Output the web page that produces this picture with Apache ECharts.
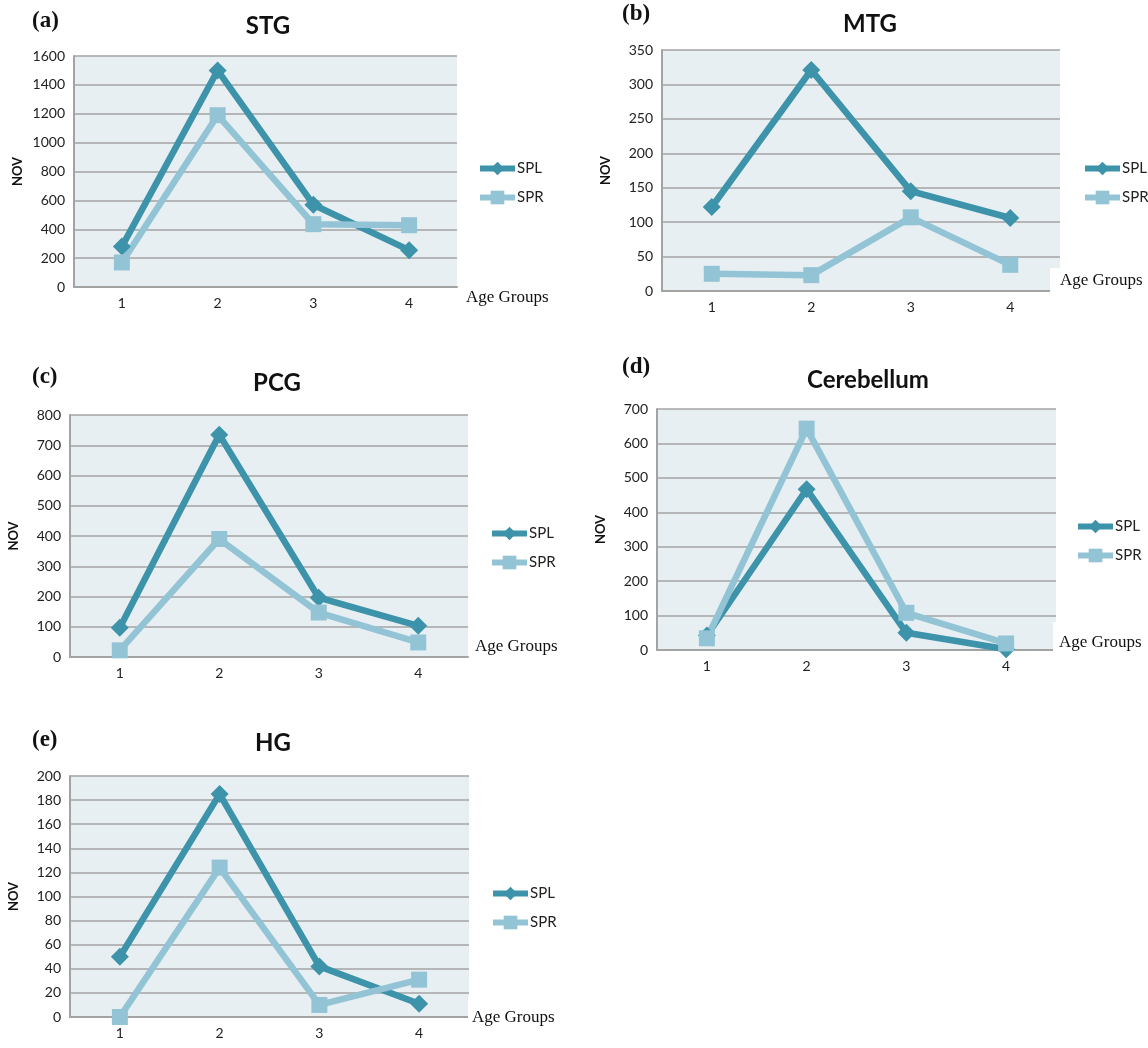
<!DOCTYPE html>
<html>
<head>
<meta charset="utf-8">
<script src="https://cdn.jsdelivr.net/npm/echarts@6/dist/echarts.min.js"></script>
<style>
html,body{margin:0;padding:0;background:#fff;}
#chart{width:1148px;height:1048px;}
</style>
</head>
<body>
<div id="chart"></div>
<script>
// ---- data ----
var categories = ['1', '2', '3', '4'];
var panelLetters = ['(a)', '(b)', '(c)', '(d)', '(e)'];
var panelTitles = ['STG', 'MTG', 'PCG', 'Cerebellum', 'HG'];
var seriesNames = ['SPL', 'SPR'];
var stgSPL = [280, 1500, 570, 255];
var stgSPR = [170, 1190, 435, 428];
var mtgSPL = [122, 321, 145, 106];
var mtgSPR = [25, 23, 107, 38];
var pcgSPL = [97, 735, 196, 103];
var pcgSPR = [22, 390, 147, 48];
var cereSPL = [42, 467, 50, 2];
var cereSPR = [34, 643, 108, 19];
var hgSPL = [50, 185, 42, 11];
var hgSPR = [0, 124, 10, 31];
var yMax = [1600, 350, 800, 700, 200];
var yStep = [200, 50, 100, 100, 20];
var yAxisName = 'NOV';
var xAxisName = 'Age Groups';

var splData = [stgSPL, mtgSPL, pcgSPL, cereSPL, hgSPL];
var sprData = [stgSPR, mtgSPR, pcgSPR, cereSPR, hgSPR];

// ---- layout ----
var grids = [
  {left: 74, top: 56, width: 383, height: 231},
  {left: 662, top: 50, width: 398, height: 241},
  {left: 70, top: 415, width: 398, height: 242},
  {left: 657, top: 409, width: 399, height: 241},
  {left: 70, top: 776, width: 399, height: 241}
];
var titlePos = [
  {x: 268, y: 14}, {x: 870, y: 12}, {x: 277, y: 371}, {x: 868, y: 368}, {x: 273, y: 731}
];
var letterPos = [
  {x: 32, y: 10}, {x: 622, y: 3}, {x: 32, y: 366}, {x: 622, y: 356}, {x: 32, y: 729}
];
var legendPos = [
  {x: 477, y: 161}, {x: 1082, y: 161}, {x: 489, y: 526}, {x: 1075, y: 519}, {x: 490, y: 886}
];
// "Age Groups" label: text position and optional white box behind it
var xNamePos = [
  {x: 466, y: 298, box: null},
  {x: 1060, y: 281, box: {x: 1050, y: 268, w: 98, h: 28}},
  {x: 475, y: 647, box: null},
  {x: 1059, y: 643, box: {x: 1053, y: 622, w: 95, h: 33}},
  {x: 472, y: 1018, box: {x: 468, y: 997, w: 92, h: 33}}
];

var SPL_COLOR = '#3d93aa';
var SPR_COLOR = '#93c4d5';
var GRID_LINE = '#a3a3a3';
var BG = '#e8eff3';
var SANS = 'Lato, "Open Sans", sans-serif';
var SERIF = '"Liberation Serif", "DejaVu Serif", serif';

var option = {
  animation: false,
  backgroundColor: '#ffffff',
  title: [], legend: [], grid: [], xAxis: [], yAxis: [], series: [], graphic: []
};

for (var i = 0; i < 5; i++) {
  option.grid.push({
    left: grids[i].left, top: grids[i].top, width: grids[i].width, height: grids[i].height,
    show: true, backgroundColor: BG, borderWidth: 0, containLabel: false
  });
  option.title.push({
    text: panelTitles[i], left: titlePos[i].x, top: titlePos[i].y, textAlign: 'center', padding: 0,
    textStyle: {fontFamily: SANS, fontWeight: 'bold', fontSize: 24, color: '#111'}
  });
  option.title.push({
    text: panelLetters[i], left: letterPos[i].x, top: letterPos[i].y, padding: 0,
    textStyle: {fontFamily: SERIF, fontWeight: 'bold', fontSize: 23, color: '#111'}
  });
  option.legend.push({
    data: seriesNames, orient: 'vertical', left: legendPos[i].x, top: legendPos[i].y, padding: 0,
    itemWidth: 35, itemHeight: 17, itemGap: 14, selectedMode: false,
    lineStyle: {width: 6},
    textStyle: {fontFamily: SANS, fontSize: 15, color: '#222', padding: [0, 0, 0, -3]}
  });
  option.xAxis.push({
    type: 'category', gridIndex: i, data: categories, boundaryGap: true,
    axisLine: {show: true, lineStyle: {color: GRID_LINE, width: 2}},
    axisTick: {show: false},
    axisLabel: {fontFamily: SANS, fontSize: 14, color: '#222', margin: 9},
    splitLine: {show: false}
  });
  option.yAxis.push({
    type: 'value', gridIndex: i, min: 0, max: yMax[i], interval: yStep[i],
    name: yAxisName, nameLocation: 'middle', nameGap: 50, nameRotate: 90,
    nameTextStyle: {fontFamily: SANS, fontWeight: 'bold', fontSize: 13, color: '#111'},
    axisLine: {show: true, lineStyle: {color: GRID_LINE, width: 2}},
    axisTick: {show: false},
    axisLabel: {fontFamily: SANS, fontSize: 14, color: '#222', margin: 9,
      formatter: function (v) { return String(v); }},
    splitLine: {show: true, lineStyle: {color: GRID_LINE, width: 1.6}}
  });
  option.series.push({
    name: seriesNames[0], type: 'line', xAxisIndex: i, yAxisIndex: i, data: splData[i],
    symbol: 'diamond', symbolSize: 18, showAllSymbol: true,
    lineStyle: {color: SPL_COLOR, width: 6.5}, itemStyle: {color: SPL_COLOR},
    emphasis: {disabled: true}
  });
  option.series.push({
    name: seriesNames[1], type: 'line', xAxisIndex: i, yAxisIndex: i, data: sprData[i],
    symbol: 'rect', symbolSize: 16, showAllSymbol: true,
    lineStyle: {color: SPR_COLOR, width: 6.5}, itemStyle: {color: SPR_COLOR},
    emphasis: {disabled: true}
  });
  var np = xNamePos[i];
  if (np.box) {
    option.graphic.push({
      type: 'rect', left: np.box.x, top: np.box.y, z: 50,
      shape: {width: np.box.w, height: np.box.h},
      style: {fill: '#ffffff'}
    });
  }
  option.graphic.push({
    type: 'text', x: np.x, y: np.y, z: 51,
    style: {text: xAxisName, font: '17px ' + SERIF, fill: '#111',
      textAlign: 'left', textVerticalAlign: 'middle', verticalAlign: 'middle'}
  });
}

var chart = echarts.init(document.getElementById('chart'), null, {renderer: 'canvas'});
chart.setOption(option);
</script>
</body>
</html>
